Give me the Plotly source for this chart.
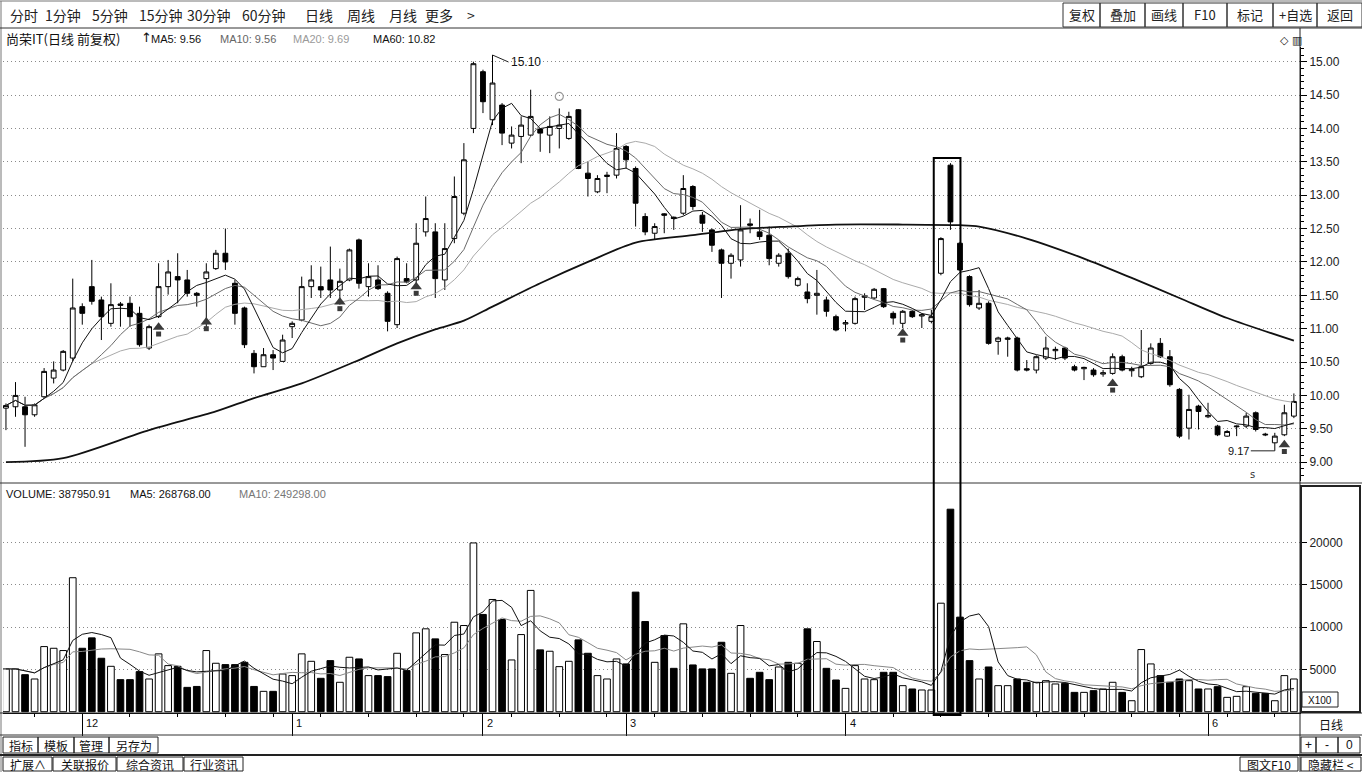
import plotly.graph_objects as go
import pandas as pd

W, H = 1362, 772

# ---------------- data ----------------
opens = [9.81, 9.83, 9.83, 9.71, 9.98, 10.26, 10.38, 10.56, 11.33, 11.63,
         11.43, 11.08, 11.37, 11.38, 11.23, 10.71, 11.18, 11.63, 11.78, 11.73,
         11.53, 11.75, 11.90, 12.13, 11.68, 11.31, 10.63, 10.43, 10.61, 10.51,
         11.03, 11.13, 11.63, 11.63, 11.73, 11.58, 11.73, 12.33, 11.63, 11.73,
         11.53, 11.06, 11.75, 11.73, 12.45, 12.45, 11.73, 12.35, 12.73, 14.00,
         14.85, 14.13, 14.35, 13.78, 13.88, 13.90, 13.99, 13.90, 14.00, 13.85,
         14.28, 13.33, 13.05, 13.28, 13.30, 13.73, 13.40, 12.68, 12.43, 12.72,
         12.67, 12.73, 13.13, 12.70, 12.48, 12.18, 11.98, 12.03, 12.57, 12.45,
         12.40, 11.98, 12.13, 11.65, 11.55, 11.50, 11.43, 11.18, 11.07, 11.08,
         11.47, 11.46, 11.60, 11.23, 11.08, 11.26, 11.19, 11.11, 11.83, 13.45,
         12.28, 11.78, 11.31, 11.38, 10.81, 10.84, 10.86, 10.40, 10.38, 10.56,
         10.67, 10.71, 10.43, 10.40, 10.38, 10.32, 10.33, 10.58, 10.37, 10.28,
         10.48, 10.78, 10.58, 10.09, 9.51, 9.84, 9.68, 9.54, 9.39, 9.53,
         9.54, 9.74, 9.42, 9.29, 9.41, 9.69]
highs = [9.88, 10.20, 9.98, 9.88, 10.41, 10.51, 10.68, 11.75, 11.38, 12.03,
         11.48, 11.68, 11.40, 11.48, 11.33, 11.06, 11.98, 12.03, 12.13, 11.88,
         11.55, 11.98, 12.18, 12.50, 11.73, 11.33, 10.68, 10.71, 10.68, 10.91,
         11.11, 11.78, 11.95, 11.93, 12.23, 11.90, 12.20, 12.35, 11.98, 11.95,
         11.56, 12.08, 11.98, 12.58, 12.98, 12.58, 12.58, 13.28, 13.78, 15.00,
         14.88, 15.10, 14.38, 14.03, 14.18, 14.58, 14.00, 14.18, 14.30, 14.25,
         14.29, 13.50, 13.30, 13.35, 13.93, 13.75, 13.43, 12.73, 12.58, 12.73,
         12.68, 13.30, 13.15, 12.75, 12.50, 12.20, 12.13, 12.85, 12.65, 12.78,
         12.53, 12.13, 12.20, 11.78, 11.68, 11.88, 11.48, 11.21, 11.13, 11.48,
         11.53, 11.61, 11.61, 11.26, 11.28, 11.28, 11.23, 11.28, 12.37, 13.48,
         12.30, 11.80, 11.58, 11.41, 10.88, 10.88, 10.88, 10.53, 10.60, 10.88,
         10.73, 10.73, 10.46, 10.43, 10.41, 10.38, 10.63, 10.61, 10.43, 10.98,
         10.78, 10.86, 10.68, 10.11, 10.01, 9.86, 9.89, 9.56, 9.48, 9.55,
         9.74, 9.76, 9.44, 9.44, 9.86, 10.03]
lows = [9.48, 9.68, 9.23, 9.68, 9.96, 10.18, 10.36, 10.51, 11.06, 11.36,
        10.83, 11.03, 11.03, 11.03, 10.73, 10.68, 11.16, 11.51, 11.38, 11.48,
        11.33, 10.98, 11.88, 11.88, 11.06, 10.71, 10.33, 10.43, 10.38, 10.51,
        10.86, 11.11, 11.46, 11.46, 11.46, 11.36, 11.71, 11.60, 11.48, 11.58,
        10.96, 11.01, 11.68, 11.68, 12.38, 11.46, 11.58, 12.28, 12.70, 13.93,
        14.23, 14.05, 13.75, 13.70, 13.48, 13.88, 13.65, 13.63, 13.70, 13.83,
        13.39, 12.98, 13.03, 13.03, 13.25, 13.40, 12.53, 12.40, 12.33, 12.43,
        12.48, 12.70, 12.78, 12.45, 12.15, 11.46, 11.75, 11.93, 12.43, 12.33,
        11.95, 11.93, 11.75, 11.63, 11.38, 11.21, 11.18, 10.96, 10.96, 11.06,
        11.28, 11.44, 11.31, 11.06, 11.01, 11.16, 11.01, 11.08, 11.80, 12.48,
        11.86, 11.33, 11.28, 10.76, 10.61, 10.58, 10.36, 10.36, 10.33, 10.53,
        10.53, 10.53, 10.36, 10.23, 10.28, 10.28, 10.31, 10.36, 10.28, 10.26,
        10.46, 10.56, 10.13, 9.36, 9.34, 9.49, 9.66, 9.39, 9.38, 9.39,
        9.51, 9.46, 9.39, 9.17, 9.39, 9.66]
closes = [9.85, 10.00, 9.71, 9.86, 10.36, 10.38, 10.66, 11.31, 11.23, 11.41,
          11.18, 11.36, 11.35, 11.18, 10.76, 11.03, 11.63, 11.85, 11.73, 11.53,
          11.50, 11.85, 12.13, 12.00, 11.23, 10.76, 10.43, 10.61, 10.56, 10.83,
          11.08, 11.63, 11.73, 11.58, 11.58, 11.71, 12.18, 11.68, 11.78, 11.60,
          11.11, 12.05, 11.70, 12.28, 12.65, 11.75, 12.20, 12.98, 13.53, 14.97,
          14.40, 14.68, 13.93, 13.90, 14.05, 14.18, 13.93, 14.03, 14.05, 14.18,
          13.40, 13.25, 13.25, 13.30, 13.70, 13.53, 12.88, 12.45, 12.53, 12.70,
          12.65, 13.10, 12.83, 12.58, 12.25, 11.98, 12.10, 12.48, 12.55, 12.38,
          12.05, 12.10, 11.78, 11.75, 11.45, 11.53, 11.26, 10.98, 11.09, 11.45,
          11.49, 11.59, 11.33, 11.16, 11.26, 11.18, 11.21, 11.18, 12.35, 12.60,
          11.88, 11.36, 11.38, 10.78, 10.86, 10.86, 10.38, 10.38, 10.58, 10.71,
          10.69, 10.56, 10.38, 10.42, 10.31, 10.34, 10.58, 10.38, 10.39, 10.43,
          10.71, 10.58, 10.16, 9.39, 9.79, 9.76, 9.70, 9.41, 9.46, 9.54,
          9.69, 9.49, 9.41, 9.39, 9.74, 9.91]
# volume, in units of 100 shares (axis shows x100)
volumes = [5060, 5060, 4380, 3870, 7700, 7500, 7230, 15840, 7500, 8730,
           6320, 5370, 3790, 3790, 4740, 3870, 6840, 5450, 5370, 2880,
           2990, 7230, 5730, 5570, 5570, 5840, 2990, 2410, 2410, 4460,
           4270, 6840, 5960, 3950, 6040, 3480, 6440, 6240, 4270, 4270,
           4150, 6910, 4860, 9320, 9800, 8610, 6760, 10580, 10190, 19950,
           11500, 13270, 10900, 6120, 9120, 14340, 7310, 7150, 5330, 5960,
           8490, 6910, 4270, 3870, 6240, 5650, 14140, 10660, 5840, 9000,
           5130, 10390, 5530, 5060, 5060, 8210, 4540, 10190, 3950, 4660,
           3790, 5290, 5840, 5730, 9800, 8300, 5130, 3750, 2760, 5450,
           3870, 3790, 4660, 4660, 3080, 2690, 2570, 2570, 12830, 23940,
           11180, 6040, 3870, 5290, 3080, 3080, 3870, 3480, 3480, 3670,
           3280, 3360, 2290, 2290, 2490, 2690, 3480, 2290, 1300, 7350,
           5650, 4270, 3480, 3870, 3670, 2690, 2690, 2960, 1700, 1820,
           2960, 2170, 2170, 1300, 4270, 3870]

# MA60 (candle index, value)
ma60_idx = [0, 6, 15, 22, 26, 31, 37, 41, 45, 48, 51, 56, 61, 66, 72, 77, 82,
            87, 94, 100, 102, 107, 113, 118, 123, 128, 135]
ma60_val = [9.00, 9.06, 9.48, 9.76, 9.96, 10.18, 10.53, 10.78, 10.99, 11.12,
            11.33, 11.68, 12.00, 12.29, 12.40, 12.49, 12.53, 12.56, 12.56,
            12.55, 12.53, 12.35, 12.05, 11.76, 11.46, 11.16, 10.82]

month_pos = [8, 30, 50, 65, 88, 126]
month_labels = ["12", "1", "2", "3", "4", "6"]

price_ticks = [9.0, 9.5, 10.0, 10.5, 11.0, 11.5, 12.0, 12.5, 13.0, 13.5,
               14.0, 14.5, 15.0]
volume_ticks = [5000, 10000, 15000, 20000]

# up-arrow markers (candle index, price)
arrow_idx = [16, 21, 35, 43, 94, 116, 134]
arrow_price = [10.97, 11.05, 11.35, 11.58, 10.88, 10.13, 9.21]

# small marks
sun_idx, sun_price = 58, 14.48
s_idx, s_price = 130.7, 8.82

high_idx, high_label = 51, "15.10"
low_idx, low_label = 133, "9.17"
box_from, box_to = 97.25, 100.05

# ---------------- figure ----------------
n = len(closes)
idx = list(range(n))
cs = pd.Series(closes)
ma5 = cs.rolling(5, min_periods=1).mean()
ma10 = cs.rolling(10, min_periods=1).mean()
ma20 = cs.rolling(20, min_periods=1).mean()
vs = pd.Series(volumes)
vma5 = vs.rolling(5, min_periods=1).mean()
vma10 = vs.rolling(10, min_periods=1).mean()

def px(x):
    return x / W

def py(y):
    return 1 - y / H

fig = go.Figure()
fig.add_trace(go.Scatter(x=idx, y=ma20, mode="lines", line=dict(color="#aaaaaa", width=1),
                         hoverinfo="skip", showlegend=False))
fig.add_trace(go.Scatter(x=idx, y=ma10, mode="lines", line=dict(color="#6a6a6a", width=1),
                         hoverinfo="skip", showlegend=False))
fig.add_trace(go.Scatter(x=idx, y=ma5, mode="lines", line=dict(color="#111111", width=1),
                         hoverinfo="skip", showlegend=False))
fig.add_trace(go.Scatter(x=ma60_idx, y=ma60_val, mode="lines",
                         line=dict(color="#111111", width=1.8, shape="spline", smoothing=0.8),
                         hoverinfo="skip", showlegend=False))
fig.add_trace(go.Candlestick(
    x=idx, open=opens, high=highs, low=lows, close=closes,
    increasing=dict(line=dict(color="black", width=1), fillcolor="white"),
    decreasing=dict(line=dict(color="black", width=1), fillcolor="black"),
    whiskerwidth=0, showlegend=False, hoverinfo="skip"))

# arrows
fig.add_trace(go.Scatter(x=arrow_idx, y=[p + 0.05 for p in arrow_price], mode="markers",
                         marker=dict(symbol="triangle-up", size=10, color="#3a3a3a"),
                         hoverinfo="skip", showlegend=False))
fig.add_trace(go.Scatter(x=arrow_idx, y=[p - 0.05 for p in arrow_price], mode="markers",
                         marker=dict(symbol="square", size=5, color="#3a3a3a"),
                         hoverinfo="skip", showlegend=False))
fig.add_trace(go.Scatter(x=[sun_idx], y=[sun_price], mode="markers",
                         marker=dict(symbol="circle-open", size=8, color="#9a9a9a",
                                     line=dict(width=1.2)),
                         hoverinfo="skip", showlegend=False))

# volume
vcolors = ["white" if c >= o else "black" for o, c in zip(opens, closes)]
fig.add_trace(go.Bar(x=idx, y=volumes, width=0.7, yaxis="y2",
                     marker=dict(color=vcolors, line=dict(color="black", width=1)),
                     hoverinfo="skip", showlegend=False))
fig.add_trace(go.Scatter(x=idx, y=vma10, mode="lines", yaxis="y2",
                         line=dict(color="#888888", width=1), hoverinfo="skip", showlegend=False))
fig.add_trace(go.Scatter(x=idx, y=vma5, mode="lines", yaxis="y2",
                         line=dict(color="#111111", width=1), hoverinfo="skip", showlegend=False))

tickfont = dict(family="Liberation Sans, Arial, sans-serif", size=12, color="#222")
CJK = "Noto Sans CJK SC, sans-serif"
GRID = dict(showgrid=True, gridcolor="#8a8a8a", griddash="1px,3px", gridwidth=1)

fig.update_layout(
    width=W, height=H, autosize=False,
    margin=dict(l=0, r=0, t=0, b=0),
    paper_bgcolor="white", plot_bgcolor="white",
    hovermode=False, dragmode=False,
    xaxis=dict(domain=[px(3), px(1300)], range=[-0.31, 135.64], anchor="y2",
               showgrid=False, zeroline=False, showline=True, linecolor="black", linewidth=1,
               tickmode="array", tickvals=month_pos, ticktext=[""] * len(month_pos),
               ticks="outside", ticklen=22, tickcolor="black", tickwidth=1,
               minor=dict(ticks="outside", ticklen=3, tickcolor="black", dtick=5, tick0=3,
                          showgrid=False),
               rangeslider=dict(visible=False), fixedrange=True),
    yaxis=dict(domain=[py(481), py(47)], range=[8.718, 15.22], anchor="x", side="right",
               tickmode="array", tickvals=price_ticks,
               ticktext=["%.2f" % t for t in price_ticks],
               ticks="outside", ticklen=6, tickcolor="black", tickfont=tickfont,
               zeroline=False, showline=True, linecolor="black",
               minor=dict(ticks="outside", ticklen=3, tickcolor="black", dtick=0.1,
                          showgrid=False),
               fixedrange=True, **GRID),
    yaxis2=dict(domain=[py(713), py(485)], range=[-150, 26800], anchor="x", side="right",
                tickmode="array", tickvals=volume_ticks, ticktext=[str(v) for v in volume_ticks],
                ticks="outside", ticklen=6, tickcolor="black", tickfont=tickfont,
                zeroline=False, showline=True, linecolor="black", fixedrange=True, **GRID),
    boxgap=0.28,
)

shapes = []
def line(x0, y0, x1, y1, w=1, c="#222"):
    shapes.append(dict(type="line", xref="paper", yref="paper", x0=px(x0), y0=py(y0),
                       x1=px(x1), y1=py(y1), line=dict(color=c, width=w)))

def rect(x0, y0, x1, y1, w=1, c="#222", fill=None):
    d = dict(type="rect", xref="paper", yref="paper", x0=px(x0), y0=py(y0),
             x1=px(x1), y1=py(y1), line=dict(color=c, width=w))
    if fill:
        d["fillcolor"] = fill
        d["layer"] = "below"
    shapes.append(d)

annots = []
def text(x, y, s, size=13, color="#111", anchor="left", font=CJK):
    annots.append(dict(xref="paper", yref="paper", x=px(x), y=py(y), text=s,
                       showarrow=False, xanchor=anchor, yanchor="middle",
                       font=dict(family=font, size=size, color=color)))

# frame
line(1, 1, 1, 772, 1, "#777")
line(0, 1, 1362, 1, 1, "#777")
line(0, 28, 1362, 28, 1, "#333")
line(1300, 28, 1300, 772, 1, "#222")
line(0, 483, 1362, 483, 1, "#333")
line(0, 713, 1362, 713, 1, "#222")
line(0, 735, 1362, 735, 1, "#333")
line(0, 755, 1362, 755, 2, "#222")
rect(1301, 486, 1360, 712, 2)
rect(1302, 692, 1338, 707, 1)

# toolbar
tb = [("分时", 8), ("1分钟", 43), ("5分钟", 90), ("15分钟", 137), ("30分钟", 185),
      ("60分钟", 240), ("日线", 303), ("周线", 345), ("月线", 387), ("更多", 423), (">", 465)]
for s, x in tb:
    text(x, 15, s, 14, "#222")
btns = [("复权", 1063, 1100), ("叠加", 1100, 1145), ("画线", 1145, 1183), ("F10", 1183, 1227),
        ("标记", 1227, 1273), ("+自选", 1273, 1317), ("返回", 1317, 1362)]
for s, x0, x1 in btns:
    rect(x0, 3, x1, 27, 1, "#333")
    text((x0 + x1) / 2, 15, s, 13, "#222", anchor="center")

# header line
text(4, 39, "尚荣IT(日线 前复权)", 13)
text(139, 38, "↑", 13, font="DejaVu Sans")
text(149, 39, "MA5: 9.56", 11, "#111", font="Liberation Sans")
text(218, 39, "MA10: 9.56", 11, "#666", font="Liberation Sans")
text(291, 39, "MA20: 9.69", 11, "#9a9a9a", font="Liberation Sans")
text(371, 39, "MA60: 10.82", 11, "#111", font="Liberation Sans")
text(1278, 41, "◇", 11, font="DejaVu Sans")
text(1290, 41, "▥", 11, font="DejaVu Sans")

# volume header
text(4, 494, "VOLUME: 387950.91", 11, "#111", font="Liberation Sans")
text(128, 494, "MA5: 268768.00", 11, "#111", font="Liberation Sans")
text(237, 494, "MA10: 249298.00", 11, "#777", font="Liberation Sans")
text(1320, 700, "X100", 10, "#111", anchor="center", font="Liberation Sans")

# right column
text(1331, 724, "日线", 12, anchor="center")
for s, x0, x1 in [("+", 1301, 1316), ("-", 1316, 1338), ("0", 1338, 1360)]:
    rect(x0, 737, x1, 753, 1)
    text((x0 + x1) / 2, 745, s, 12, anchor="center", font="Liberation Sans")
rect(1240, 757, 1298, 771, 1)
text(1269, 764, "图文F10", 12, anchor="center")
rect(1301, 757, 1361, 771, 1)
text(1331, 764, "隐藏栏 <", 12, anchor="center")

# bottom tabs
for s, x0, x1 in [("指标", 3, 38), ("模板", 38, 74), ("管理", 74, 109), ("另存为", 109, 158)]:
    rect(x0, 737, x1, 753, 1)
    text((x0 + x1) / 2, 745, s, 12, anchor="center")
for s, x0, x1 in [("扩展∧", 3, 52), ("关联报价", 53, 116), ("综合资讯", 117, 183), ("行业资讯", 184, 243)]:
    rect(x0, 757, x1, 771, 1)
    text((x0 + x1) / 2, 764, s, 12, anchor="center")

# month labels
for p, s in zip(month_pos, month_labels):
    annots.append(dict(xref="x", yref="paper", x=p, y=py(723), text=s, showarrow=False,
                       xanchor="left", xshift=2, yanchor="middle",
                       font=dict(family="Liberation Sans", size=11, color="#111")))

# highlight box
shapes.append(dict(type="rect", xref="x", yref="paper", x0=box_from, x1=box_to,
                   y0=py(715), y1=py(158), line=dict(color="black", width=2)))

# high / low labels
annots.append(dict(xref="x", yref="y", x=high_idx, y=highs[high_idx], text=high_label,
                   showarrow=True, arrowhead=0, arrowwidth=1, arrowcolor="#222",
                   ax=16, ay=7, xanchor="left",
                   font=dict(family="Liberation Sans", size=12, color="#111")))
annots.append(dict(xref="x", yref="y", x=low_idx, y=lows[low_idx], text=low_label,
                   showarrow=True, arrowhead=0, arrowwidth=1, arrowcolor="#222",
                   ax=-24, ay=0, xanchor="right",
                   font=dict(family="Liberation Sans", size=11, color="#111")))
annots.append(dict(xref="x", yref="y", x=s_idx, y=s_price, text="s", showarrow=False,
                   font=dict(family="DejaVu Sans", size=10, color="#333")))

fig.update_layout(shapes=shapes, annotations=annots)

fig.write_html("out.html", config={"displayModeBar": False, "staticPlot": True},
               post_script="document.body.style.margin='0';")
